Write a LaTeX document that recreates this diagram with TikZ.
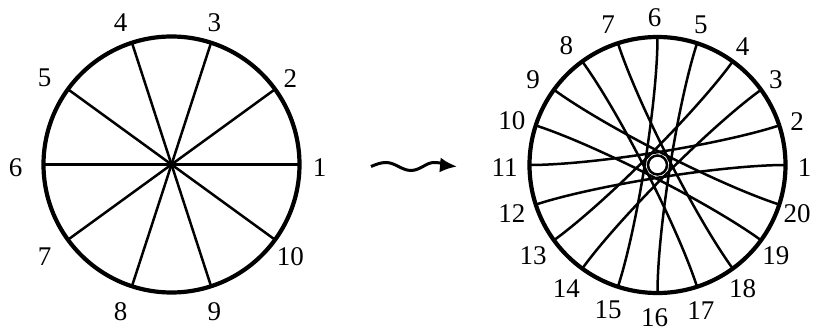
\documentclass[tikz,border=0pt]{standalone}
\usepackage{fontspec}
\setmainfont{Liberation Serif}
\usetikzlibrary{arrows.meta, calc}

\begin{document}
\begin{tikzpicture}[x=0.5pt, y=0.5pt, >={Latex[length=8.5pt, width=7.5pt]},
    rim/.style={line width=2.1pt},
    spoke/.style={line width=1.25pt},
    num/.style={font=\fontsize{13.5}{15}\selectfont, inner sep=0pt}
]
    \useasboundingbox (0,0) rectangle (820,332);

    % left disc, ten points
    \coordinate (cl) at (171.5,167.5);
    \foreach \i in {1,...,10} {
        \coordinate (l\i) at ($(cl)+({36*(\i-1)}:128)$);
        \node[num] (nl\i) at ($(cl)+(-4,-3)+({36*(\i-1)}:152)$) {\i};
    }
    \foreach \i in {1,...,5} {
        \pgfmathtruncatemacro{\j}{\i+5}
        \draw[spoke] (l\i) -- (l\j);
    }
    \draw[rim] (cl) circle[radius=128];

    % squiggly arrow
    \coordinate (w0) at (371,165.5);
    \coordinate (w1) at (457,165.5);
    \draw[line width=1.5pt, ->] (w0) sin ++(15,4) cos ++(12.5,-4) sin ++(12.5,-4)
        cos ++(12,4) sin ++(11,4) to[out=0, in=175] (w1);

    % right disc, twenty points
    \coordinate (cr) at (657.5,167);
    \foreach \i in {1,...,20} {
        \coordinate (r\i) at ($(cr)+({18*(\i-1)}:128)$);
        \coordinate (q\i) at ($(cr)+({18*(\i-1)}:65)$);
        \node[num] (nr\i) at ($(cr)+(-3,-2.5)+({18*(\i-1)}:150)$) {\i};
    }
    \foreach \i in {2,4,...,20} {
        \pgfmathtruncatemacro{\j}{mod(\i+8,20)+1}
        \draw[spoke] (r\i) .. controls (q\i) and (q\j) .. (r\j);
    }
    \draw[spoke, fill=white] (cr) circle[radius=9.5];
    \draw[rim] (cr) circle[radius=128];
\end{tikzpicture}
\end{document}
